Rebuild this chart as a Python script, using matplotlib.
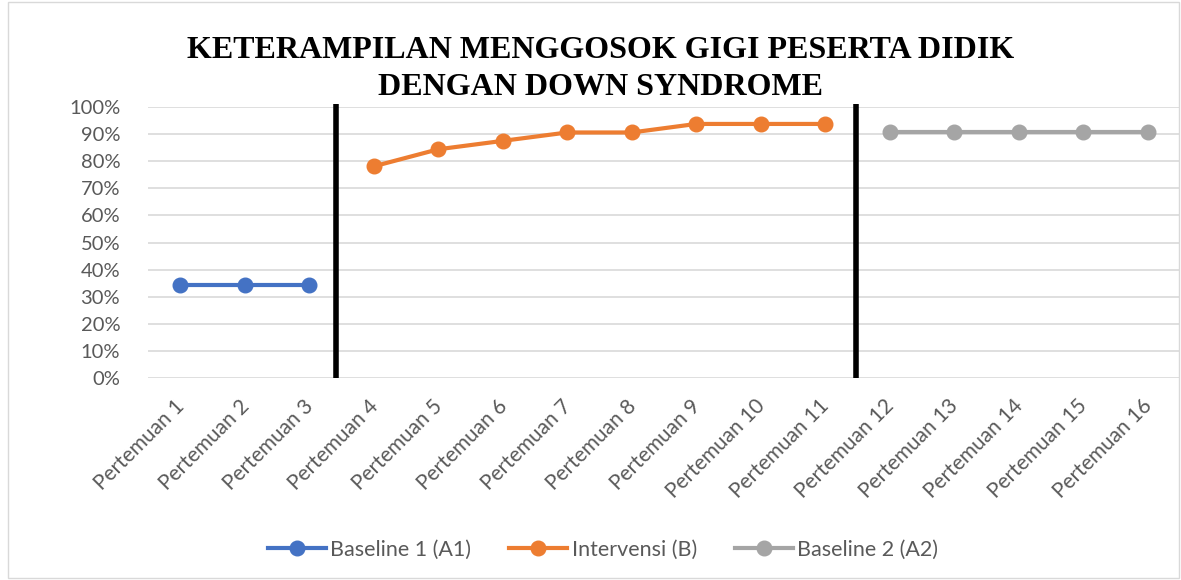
import matplotlib
matplotlib.use("Agg")
import matplotlib.pyplot as plt
import matplotlib.transforms as mtransforms
from matplotlib.patches import Rectangle

categories = [f"Pertemuan {i}" for i in range(1, 17)]
baseline1 = [0.344, 0.344, 0.344]
intervensi = [0.781, 0.844, 0.875, 0.906, 0.906, 0.9375, 0.9375, 0.9375]
baseline2 = [0.906, 0.906, 0.906, 0.906, 0.906]
y_ticks = [i / 10 for i in range(11)]
y_labels = [f"{i*10}%" for i in range(11)]
phase_lines = [2.42, 10.47]
title_lines = ["KETERAMPILAN MENGGOSOK GIGI PESERTA DIDIK", "DENGAN DOWN SYNDROME"]

W, H = 1181, 580
fig = plt.figure(figsize=(W / 100, H / 100), dpi=100)
fig.patch.set_facecolor("white")
fig.patches.append(Rectangle((8 / W, 2 / H), (W - 10) / W, (H - 4) / H, transform=fig.transFigure,
                             fill=False, edgecolor="#d9d9d9", linewidth=1))

left, right, top, bottom = 148, 1180, 107, 378
ax = fig.add_axes([left / W, 1 - bottom / H, (right - left) / W, (bottom - top) / H])
ax.set_xlim(-0.5, 15.5)
ax.set_ylim(0, 1)

font = "Lato"
tc = "#595959"
fs = 14.5
ax.set_yticks(y_ticks)
ax.set_yticklabels(y_labels, fontsize=fs, color=tc, family=font)
ax.yaxis.grid(True, color="#d9d9d9", linewidth=1.2)
ax.set_axisbelow(True)
for s in ax.spines.values():
    s.set_visible(False)
ax.tick_params(length=0)
ax.tick_params(axis="y", pad=20)
ax.set_xticks(range(16))
ax.set_xticklabels(categories, rotation=45, ha="right", va="top", rotation_mode="anchor",
                   fontsize=15, color=tc, family=font)
ax.tick_params(axis="x", pad=13)
off = mtransforms.ScaledTranslation(-6 / 100, 0, fig.dpi_scale_trans)
for lab in ax.get_xticklabels():
    lab.set_transform(lab.get_transform() + off)

lw, ms = 3.0, 10.5
c1, c2, c3 = "#4472c4", "#ed7d31", "#a5a5a5"
ax.plot(range(0, 3), baseline1, color=c1, lw=lw, marker="o", ms=ms, label="Baseline 1 (A1)", clip_on=False)
ax.plot(range(3, 11), intervensi, color=c2, lw=lw, marker="o", ms=ms, label="Intervensi (B)", clip_on=False)
ax.plot(range(11, 16), baseline2, color=c3, lw=lw, marker="o", ms=ms, label="Baseline 2 (A2)", clip_on=False)

for x in phase_lines:
    ax.plot([x, x], [0, 1.01], color="black", lw=4, clip_on=False, solid_capstyle="butt")

for line, yb in zip(title_lines, [58, 95]):
    fig.text(601 / W, 1 - yb / H, line, ha="center", va="baseline", fontsize=23,
             fontweight="bold", family="Liberation Serif")

leg = fig.legend(loc="center", bbox_to_anchor=(603 / W, 1 - 550 / H), ncol=3, frameon=False,
                 prop={"family": font, "size": 15.5}, handlelength=2.7, handletextpad=0.2,
                 columnspacing=1.75)
for t in leg.get_texts():
    t.set_color(tc)

fig.savefig("out.png", dpi=100)
